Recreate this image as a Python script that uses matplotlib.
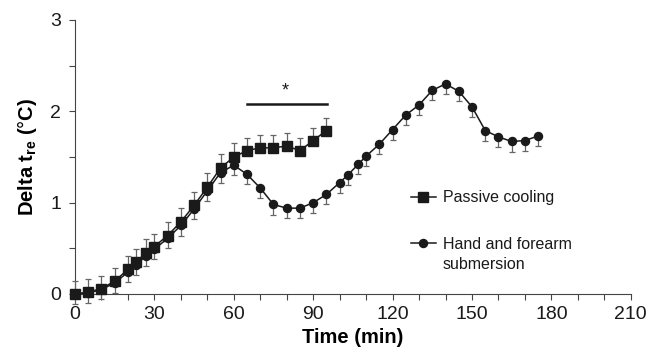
import numpy as np
import matplotlib.pyplot as plt

plt.rcParams['font.family'] = ['Liberation Sans', 'DejaVu Sans']
plt.rcParams['mathtext.fontset'] = 'custom'
plt.rcParams['mathtext.rm'] = 'Liberation Sans'
plt.rcParams['mathtext.bf'] = 'Liberation Sans:bold'

# passive cooling (squares), upper error only
t_pc = [0, 5, 10, 15, 20, 23, 27, 30, 35, 40, 45, 50, 55, 60, 65, 70, 75, 80, 85, 90, 95]
y_pc = [0.0, 0.02, 0.06, 0.14, 0.27, 0.35, 0.45, 0.52, 0.64, 0.79, 0.97, 1.17, 1.38,
        1.50, 1.57, 1.60, 1.60, 1.62, 1.57, 1.68, 1.79]
e_pc = [0.14, 0.14, 0.14, 0.15, 0.15, 0.14, 0.15, 0.14, 0.15, 0.15, 0.15, 0.15, 0.15,
        0.15, 0.14, 0.14, 0.14, 0.14, 0.14, 0.14, 0.14]

# hand and forearm submersion (circles), lower error only
t_hf = [0, 5, 10, 15, 20, 23, 27, 30, 35, 40, 45, 50, 55, 60, 65, 70, 75, 80, 85, 90, 95,
        100, 103, 107, 110, 115, 120, 125, 130, 135, 140, 145, 150, 155, 160, 165, 170, 175]
y_hf = [0.0, 0.01, 0.05, 0.12, 0.24, 0.32, 0.42, 0.49, 0.61, 0.75, 0.93, 1.13, 1.33,
        1.41, 1.31, 1.16, 0.98, 0.94, 0.94, 1.00, 1.09,
        1.22, 1.30, 1.42, 1.51, 1.64, 1.80, 1.96, 2.07, 2.23, 2.30, 2.22, 2.05,
        1.79, 1.72, 1.67, 1.68, 1.73]
e_hf = [0.11] * len(t_hf)

labels = ['Passive cooling', 'Hand and forearm\nsubmersion']

def driver():
    fig = plt.figure(figsize=(6.5, 3.61), dpi=100)
    ax = fig.add_axes([0.1154, 0.1856, 0.855, 0.759])
    dark = '#1a1a1a'

    ax.errorbar(t_hf, y_hf, yerr=[e_hf, [0] * len(e_hf)], fmt='-o', color=dark,
                ecolor='#666666', elinewidth=0.9, capsize=2.3, capthick=0.9,
                markersize=5.8, linewidth=1.1, zorder=2)
    ax.errorbar(t_pc, y_pc, yerr=[[0] * len(e_pc), e_pc], fmt='-s', color=dark,
                ecolor='#666666', elinewidth=0.9, capsize=2.3, capthick=0.9,
                markersize=7, linewidth=1.1, zorder=3)
    for a in ax.lines + ax.collections:
        a.set_clip_on(False)

    # significance bar
    ax.plot([65, 95.4], [2.08, 2.08], color=dark, linewidth=1.8)
    ax.text(79.5, 2.22, '*', ha='center', va='center', fontsize=13, color=dark)

    ax.set_xlim(0, 210)
    ax.set_ylim(0, 3)
    ax.set_xticks(range(0, 211, 30))
    ax.set_xticks(range(0, 211, 10), minor=True)
    ax.set_yticks([0, 1, 2, 3])
    ax.set_yticks(np.arange(0, 3.01, 0.5), minor=True)
    ax.tick_params(which='both', direction='out', length=4, width=0.8, colors='#444444',
                   labelsize=14, labelcolor=dark)
    ax.tick_params(axis='x', pad=5)
    ax.tick_params(axis='y', pad=6)
    for s in ['top', 'right']:
        ax.spines[s].set_visible(False)
    for s in ['left', 'bottom']:
        ax.spines[s].set_color('#444444')
        ax.spines[s].set_linewidth(0.8)

    ax.set_xlabel('Time (min)', fontsize=14.5, fontweight='bold', labelpad=3)
    ax.set_ylabel(r'Delta t$_\mathbf{re}$ ($\mathrm{\degree}$C)', fontsize=14.5,
                  fontweight='bold', labelpad=8)

    # legend drawn by hand so the handle sits on the first text line
    tr = ax.transAxes
    for yy, mk, ms, lab in [(0.355, 's', 7, labels[0]), (0.186, 'o', 5.8, labels[1])]:
        ax.plot([0.6054, 0.6504], [yy, yy], color=dark, linewidth=1.1, transform=tr, clip_on=False)
        ax.plot([0.627], [yy], marker=mk, markersize=ms, color=dark, transform=tr, clip_on=False)
        for k, line in enumerate(lab.split('\n')):
            ax.text(0.6613, yy - 0.021 - k * 0.073, line, transform=tr, fontsize=11.5,
                    color=dark, va='baseline', ha='left')

    fig.savefig('out.png', dpi=100)

driver()
